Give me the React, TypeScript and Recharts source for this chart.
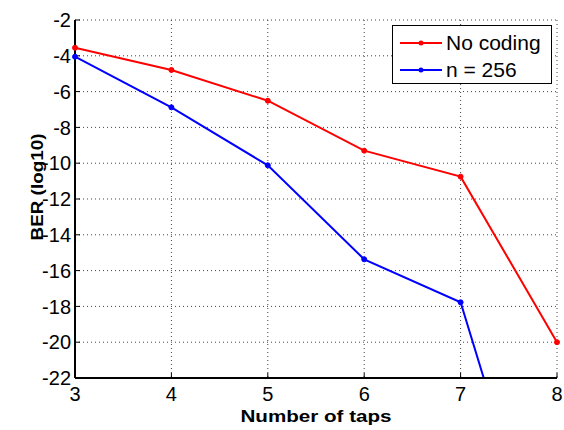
import {
  LineChart,
  Line,
  XAxis,
  YAxis,
  CartesianGrid,
  Legend,
} from "recharts"

const taps = [3, 4, 5, 6, 7, 8]
const noCoding = [-3.55, -4.79, -6.51, -9.3, -10.75, -20]
const n256 = [-4.05, -6.88, -10.12, -15.37, -17.77, -35.4]
const yTicks = [-22, -20, -18, -16, -14, -12, -10, -8, -6, -4, -2]

const seriesInfo = [
  { key: "noCoding", name: "No coding", color: "#ff0000" },
  { key: "n256", name: "n = 256", color: "#0000ff" },
]

const data = taps.map((t, i) => ({ x: t, noCoding: noCoding[i], n256: n256[i] }))

const font = "'Liberation Sans', Arial, Helvetica, sans-serif"
const tickStyle = { fill: "#000", fontSize: 20, fontFamily: font }

const LegendBox = () => (
  <div
    style={{
      width: 160,
      height: 59,
      boxSizing: "border-box",
      border: "1.5px solid #000",
      background: "#fff",
      padding: "3px 0 0 7px",
      fontFamily: font,
      fontSize: 21,
      color: "#000",
    }}
  >
    {seriesInfo.map((s) => (
      <div key={s.key} style={{ display: "flex", alignItems: "center", height: 27 }}>
        <svg width={43} height={10}>
          <line x1={0} y1={5} x2={42} y2={5} stroke={s.color} strokeWidth={2} />
          <circle cx={21} cy={5} r={2.5} fill={s.color} />
        </svg>
        <span style={{ marginLeft: 3, lineHeight: "27px" }}>{s.name}</span>
      </div>
    ))}
  </div>
)

export default function App() {
  return (
    <div style={{ position: "absolute", left: 0, top: 0, background: "#fff" }}>
      <LineChart
        width={564}
        height={430}
        data={data}
        margin={{ top: 20, right: 7, bottom: 0, left: 0 }}
      >
        <CartesianGrid stroke="#444" strokeDasharray="1 3" />
        <XAxis
          dataKey="x"
          type="number"
          domain={[3, 8]}
          ticks={taps}
          height={52}
          tickSize={-5}
          tickMargin={14}
          tick={tickStyle}
          axisLine={{ stroke: "#000", strokeWidth: 2 }}
          tickLine={{ stroke: "#000" }}
          label={{
            content: (props: any) => {
              const vb = props.viewBox
              return (
                <text
                  x={vb.x + vb.width / 2}
                  y={vb.y + 43.5}
                  textAnchor="middle"
                  fontFamily={font}
                  fontWeight="bold"
                  fontSize={16}
                  textLength={151}
                  lengthAdjust="spacingAndGlyphs"
                  fill="#000"
                >
                  Number of taps
                </text>
              )
            },
          }}
        />
        <XAxis
          xAxisId="top"
          orientation="top"
          dataKey="x"
          type="number"
          domain={[3, 8]}
          ticks={taps}
          height={0}
          tick={false}
          tickSize={-5}
          axisLine={{ stroke: "#000", strokeWidth: 2 }}
          tickLine={{ stroke: "#000" }}
        />
        <YAxis
          type="number"
          domain={[-22, -2]}
          ticks={yTicks}
          allowDataOverflow
          width={75}
          tickSize={-5}
          tickMargin={9}
          tick={tickStyle}
          axisLine={{ stroke: "#000", strokeWidth: 2 }}
          tickLine={{ stroke: "#000" }}
          label={{
            content: (props: any) => {
              const vb = props.viewBox
              const cx = vb.x + 43
              const cy = vb.y + vb.height / 2 - 12
              return (
                <text
                  x={cx}
                  y={cy}
                  transform={`rotate(-90 ${cx} ${cy})`}
                  textAnchor="middle"
                  fontFamily={font}
                  fontWeight="bold"
                  fontSize={16}
                  textLength={107}
                  lengthAdjust="spacingAndGlyphs"
                  fill="#000"
                >
                  BER (log10)
                </text>
              )
            },
          }}
        />
        <YAxis
          yAxisId="right"
          orientation="right"
          type="number"
          domain={[-22, -2]}
          ticks={yTicks}
          allowDataOverflow
          width={0}
          tick={false}
          tickSize={-5}
          axisLine={{ stroke: "#000", strokeWidth: 2 }}
          tickLine={{ stroke: "#000" }}
        />
        {seriesInfo.map((s) => (
          <Line
            key={s.key}
            dataKey={s.key}
            name={s.name}
            stroke={s.color}
            strokeWidth={2}
            dot={{ r: 2.5, fill: s.color, stroke: s.color, strokeWidth: 1 }}
            activeDot={false}
            isAnimationActive={false}
          />
        ))}
        <Legend
          layout="vertical"
          verticalAlign="middle"
          align="center"
          content={() => <LegendBox />}
          wrapperStyle={{ left: 392, top: 25, width: 160, height: 59 }}
        />
      </LineChart>
    </div>
  )
}
